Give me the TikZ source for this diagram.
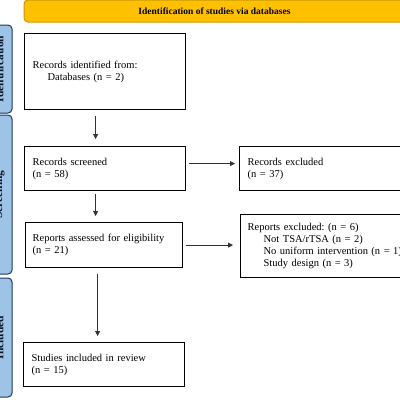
\documentclass[tikz,border=0pt]{standalone}
\usepackage{fontspec}
\setmainfont{Liberation Serif}
\usetikzlibrary{arrows.meta}
\frenchspacing
\definecolor{gold}{HTML}{FFC000}
\definecolor{golddark}{HTML}{C99A00}
\definecolor{phasefill}{HTML}{9DC3E6}
\definecolor{phasedraw}{HTML}{1F3864}
\tikzset{
  stage/.style={
    rectangle, draw=black, line width=1.2pt,
    anchor=north west, align=left,
    inner xsep=8pt, inner ysep=3pt,
    font=\fontsize{10.5}{12}\selectfont
  },
  phase/.style={
    rectangle, rounded corners=4pt,
    draw=phasedraw, line width=1pt, fill=phasefill,
    rotate=90, minimum height=25pt,
    font=\fontsize{11.5}{12}\selectfont\bfseries, text=phasedraw!40!black
  },
  banner/.style={
    rectangle, rounded corners=4pt,
    draw=golddark, line width=1pt, fill=gold,
    minimum width=381pt, minimum height=22pt,
    font=\fontsize{9.5}{11}\selectfont\bfseries
  },
  arr/.style={-{Triangle[length=5pt,width=5pt]}, line width=0.8pt, black!80},
}
\begin{document}
\begin{tikzpicture}[x=1pt, y=1pt]
  \useasboundingbox (0,0) rectangle (400,-400);

  \node[banner] (head) at (214.5,-11) {Identification of studies via databases};

  % phases
  \node[phase, minimum width=88pt] (pid) at (-0.5,-69) {Identification};
  \node[phase, minimum width=159pt] (pscr) at (-0.5,-194.5) {Screening};
  \node[phase, minimum width=119pt] (pinc) at (-0.5,-337.5) {Included};

  \node[stage, text width=145pt, minimum height=76pt] (ident) at (24,-33)
    {Records identified from:\\\hspace*{15pt}Databases (n = 2)};

  \node[stage, text width=145pt, minimum height=44pt] (screen) at (24,-146)
    {Records screened\\(n = 58)};

  \node[stage, text width=159pt, minimum height=44pt] (recexcl) at (239,-146)
    {Records excluded\\(n = 37)};

  \node[stage, inner xsep=7pt, text width=143pt, minimum height=45pt] (assess) at (25,-222)
    {Reports assessed for eligibility\\(n = 21)};

  \node[stage, inner xsep=7pt, text width=161pt, minimum height=63pt] (repexcl) at (240,-214)
    {Reports excluded: (n = 6)\\
     \hspace*{16pt}Not TSA/rTSA (n = 2)\\
     \hspace*{16pt}No uniform intervention (n = 1)\\
     \hspace*{16pt}Study design (n = 3)};

  \node[stage, text width=145pt, minimum height=44pt] (incl) at (23,-342)
    {Studies included in review\\(n = 15)};

  % Arrows
  \draw[arr, shorten <=6pt, shorten >=7pt]
    ([xshift=-9.5pt]ident.south) -- ([xshift=-9.5pt]ident.south |- screen.north);
  \draw[arr, shorten <=3pt, shorten >=4pt]
    ([yshift=5pt]screen.east) -- ([yshift=5pt]screen.east -| recexcl.west);
  \draw[arr, shorten <=3pt, shorten >=6pt]
    ([xshift=-9.5pt]screen.south) -- ([xshift=-9.5pt]screen.south |- assess.north);
  \draw[arr, shorten <=3pt, shorten >=7pt]
    (assess.east) -- (assess.east -| repexcl.west);
  \draw[arr, shorten <=6pt, shorten >=6pt]
    ([xshift=-6.5pt]assess.south) -- ([xshift=-6.5pt]assess.south |- incl.north);

\end{tikzpicture}
\end{document}
